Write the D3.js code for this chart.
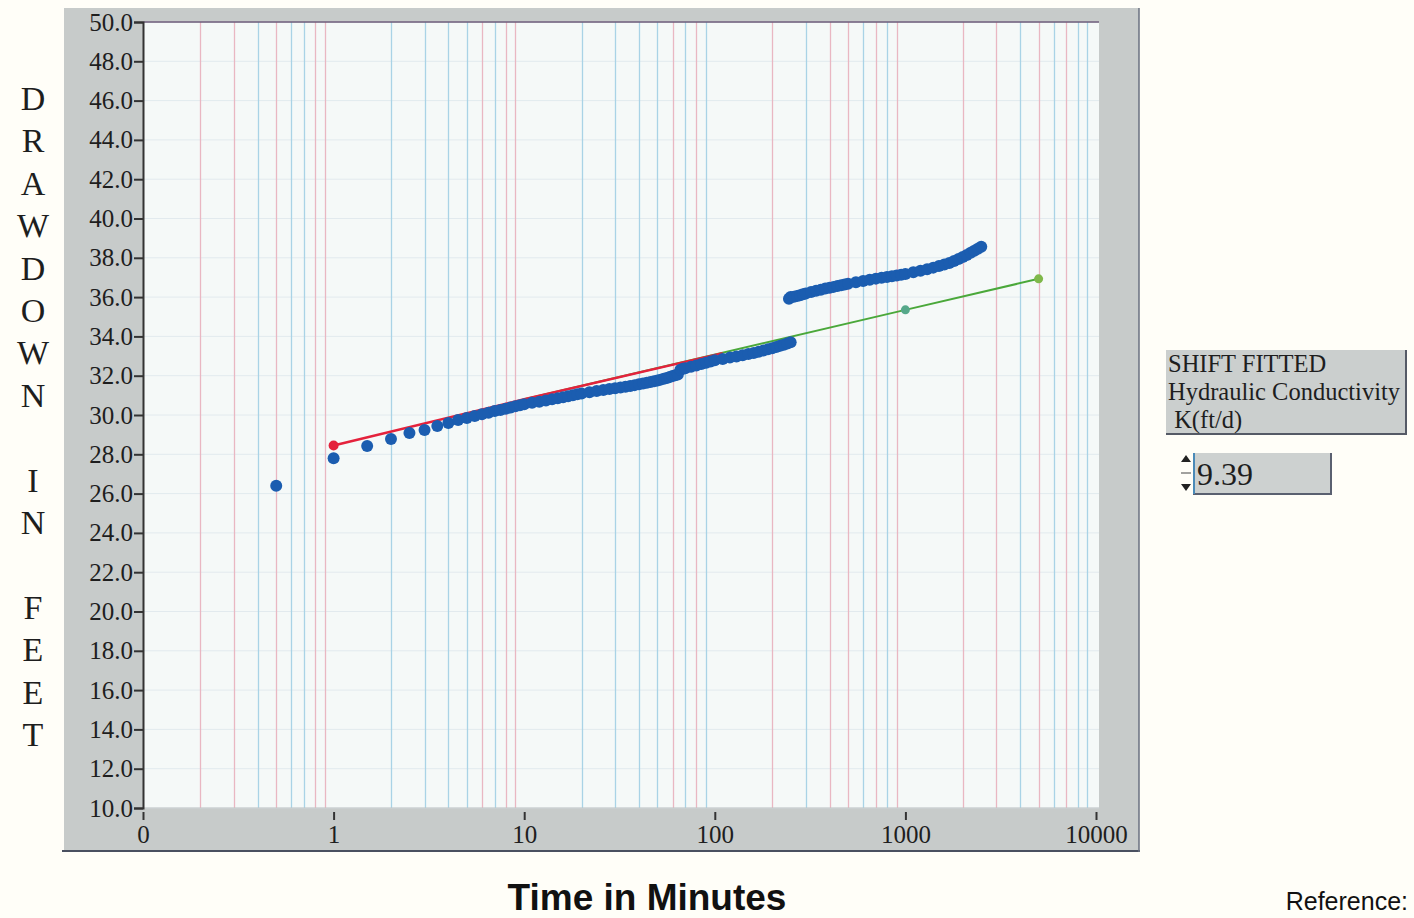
<!DOCTYPE html>
<html lang="en">
<head>
    <meta charset="UTF-8">
    <title>Drawdown vs Time</title>
    <script src="https://d3js.org/d3.v7.min.js"></script>
    <style>
        body {
            margin: 0;
            background: #fffef8;
        }
        .serif {
            font-family: "Liberation Serif", "Times New Roman", serif;
            fill: #1e1e1e;
        }
        .sans {
            font-family: "Liberation Sans", Arial, sans-serif;
            fill: #111;
        }
    </style>
</head>
<body>
    <script>
        // observed drawdown (blue dots)
        const obsTime = [0.5, 1, 1.5, 2, 2.5, 3, 3.5, 4, 4.5, 5, 5.5, 6, 6.5, 7, 7.5, 8, 8.5, 9, 9.5, 10,
            11, 12, 13, 14, 15, 16, 17, 18, 19, 20, 22, 24, 26, 28, 30, 32, 34, 36, 38, 40,
            42, 44, 46, 48, 50, 52, 54, 56, 58, 60, 62, 64, 66, 68, 70, 75, 80, 85, 90, 95, 100,
            110, 120, 130, 140, 150, 160, 170, 180, 190, 200, 210, 220, 230, 240, 250];
        const obsDrawdown = [26.4, 27.8, 28.42, 28.78, 29.08, 29.24, 29.44, 29.59, 29.75, 29.85, 29.95, 30.04, 30.12, 30.2, 30.26, 30.32, 30.38, 30.44, 30.5, 30.55,
            30.62, 30.68, 30.74, 30.8, 30.85, 30.9, 30.95, 31.0, 31.05, 31.1, 31.16, 31.22, 31.27, 31.32, 31.36, 31.4, 31.44, 31.48, 31.52, 31.56,
            31.6, 31.64, 31.68, 31.72, 31.76, 31.8, 31.84, 31.88, 31.93, 31.98, 32.02, 32.06, 32.3, 32.35, 32.38, 32.45, 32.52, 32.6, 32.66, 32.72, 32.78,
            32.85, 32.92, 32.98, 33.04, 33.1, 33.16, 33.22, 33.28, 33.34, 33.4, 33.46, 33.52, 33.58, 33.64, 33.7];

        // second, shifted block of observations
        const lateTime = [245, 250, 260, 270, 280, 290, 300, 320, 340, 360, 380, 400, 420, 440, 460, 480, 500,
            550, 600, 650, 700, 750, 800, 850, 900, 950, 1000, 1100, 1200, 1300, 1400, 1500,
            1600, 1700, 1800, 1900, 2000, 2100, 2200, 2300, 2400, 2500];
        const lateDrawdown = [35.92, 36.0, 36.02, 36.06, 36.1, 36.14, 36.18, 36.26, 36.32, 36.38, 36.44, 36.48, 36.52, 36.56, 36.6, 36.64, 36.68,
            36.76, 36.82, 36.88, 36.94, 36.98, 37.02, 37.06, 37.1, 37.14, 37.18, 37.26, 37.34, 37.42, 37.5, 37.58,
            37.66, 37.74, 37.84, 37.94, 38.04, 38.14, 38.26, 38.36, 38.46, 38.56];

        // fitted lines
        const redFitTime = [1, 10, 110];
        const redFitDrawdown = [28.45, 30.8, 33.15];
        const greenFitTime = [10, 1000, 5000];
        const greenFitDrawdown = [30.8, 35.35, 36.93];

        const xTickValues = [0.1, 1, 10, 100, 1000, 10000];
        const xTickLabels = ['0', '1', '10', '100', '1000', '10000'];
        const yTickValues = d3.range(10, 50.1, 2);
        const yTitle = 'DRAWDOWN IN FEET';
        const kValue = '9.39';

        const width = 1414, height = 918;
        const plot = {left: 143, right: 1099, top: 22, bottom: 808};

        const svg = d3.select('body')
                      .append('svg')
                      .attr('width', width)
                      .attr('height', height);

        const xScale = d3.scaleLog()
                         .domain([0.1, 10000])
                         .range([plot.left, 1096]);

        const yScale = d3.scaleLinear()
                         .domain([10, 50])
                         .range([plot.bottom, plot.top]);

        // gray frame
        svg.append('rect')
            .attr('x', 64).attr('y', 8)
            .attr('width', 1075).attr('height', 843)
            .attr('fill', '#c7cbca');
        svg.append('line')
            .attr('x1', 62).attr('x2', 1140).attr('y1', 851).attr('y2', 851)
            .attr('stroke', '#4a5060').attr('stroke-width', 2);
        svg.append('line')
            .attr('x1', 1139).attr('x2', 1139).attr('y1', 8).attr('y2', 852)
            .attr('stroke', '#6a7080').attr('stroke-width', 1.5);

        // plot background
        svg.append('rect')
            .attr('x', plot.left).attr('y', plot.top)
            .attr('width', plot.right - plot.left).attr('height', plot.bottom - plot.top)
            .attr('fill', '#f5f9f8');

        // horizontal grid
        svg.append('g')
            .selectAll('line')
            .data(yTickValues)
            .join('line')
            .attr('x1', plot.left).attr('x2', plot.right)
            .attr('y1', d => yScale(d)).attr('y2', d => yScale(d))
            .attr('stroke', '#e2eaee').attr('stroke-width', 1);

        // vertical minor grid, pink and blue as in the scan
        const pink = '#e9b7c2', blue = '#a9d3e6';
        const gridColors = [
            pink, pink, blue, pink, blue, blue, pink, pink,
            blue, blue, blue, blue, pink, blue, pink, pink,
            blue, blue, blue, blue, pink, blue, pink, blue,
            pink, blue, pink, pink, blue, pink, blue, pink,
            pink, pink, blue, pink, blue, pink, blue, blue
        ];
        const minorTicks = [];
        [0.1, 1, 10, 100, 1000].forEach(dec => {
            for (let m = 2; m <= 9; m++) minorTicks.push(dec * m);
        });
        svg.append('g')
            .selectAll('line')
            .data(minorTicks)
            .join('line')
            .attr('x1', d => Math.round(xScale(d)) + 0.5)
            .attr('x2', d => Math.round(xScale(d)) + 0.5)
            .attr('y1', plot.top).attr('y2', plot.bottom)
            .attr('stroke', (d, i) => gridColors[i])
            .attr('stroke-width', 1.3);

        // plot border
        svg.append('line')
            .attr('x1', plot.left).attr('x2', plot.right).attr('y1', plot.top).attr('y2', plot.top)
            .attr('stroke', '#6b5a78').attr('stroke-width', 1.5);
        svg.append('line')
            .attr('x1', plot.left).attr('x2', plot.right).attr('y1', plot.bottom).attr('y2', plot.bottom)
            .attr('stroke', '#c0c4c4').attr('stroke-width', 1);

        // y axis
        const yAxis = svg.append('g')
            .attr('transform', `translate(${plot.left},0)`)
            .call(d3.axisLeft(yScale).tickValues(yTickValues).tickFormat(d3.format('.1f')).tickSize(9).tickPadding(1));
        yAxis.select('.domain').attr('stroke', '#333').attr('stroke-width', 2);
        yAxis.selectAll('.tick line').attr('stroke', '#333').attr('stroke-width', 2);
        yAxis.selectAll('.tick text')
            .attr('class', 'serif')
            .attr('font-size', 25)
            .attr('fill', '#1e1e1e');

        // x axis
        const xAxis = svg.append('g')
            .attr('transform', `translate(0,${plot.bottom + 4})`)
            .call(d3.axisBottom(xScale).tickValues(xTickValues)
                .tickFormat((d, i) => xTickLabels[i]).tickSize(8).tickPadding(5));
        xAxis.select('.domain').remove();
        xAxis.selectAll('.tick line').attr('stroke', '#333').attr('stroke-width', 2);
        xAxis.selectAll('.tick text')
            .attr('class', 'serif')
            .attr('font-size', 25)
            .attr('fill', '#1e1e1e');

        // fitted lines
        const line = d3.line()
            .x(d => xScale(d[0]))
            .y(d => yScale(d[1]));

        svg.append('path')
            .datum(d3.zip(greenFitTime, greenFitDrawdown))
            .attr('d', line)
            .attr('fill', 'none')
            .attr('stroke', '#4aa83a')
            .attr('stroke-width', 2);

        svg.append('path')
            .datum(d3.zip(redFitTime, redFitDrawdown))
            .attr('d', line)
            .attr('fill', 'none')
            .attr('stroke', '#e4223c')
            .attr('stroke-width', 2.5);

        // observations
        const obs = d3.zip(obsTime, obsDrawdown).concat(d3.zip(lateTime, lateDrawdown));
        svg.append('g')
            .selectAll('circle')
            .data(obs)
            .join('circle')
            .attr('cx', d => xScale(d[0]))
            .attr('cy', d => yScale(d[1]))
            .attr('r', 6)
            .attr('fill', '#1b5db0');

        // line markers
        svg.append('circle')
            .attr('cx', xScale(redFitTime[0]))
            .attr('cy', yScale(redFitDrawdown[0]))
            .attr('r', 5)
            .attr('fill', '#e4223c');

        svg.append('g')
            .selectAll('circle')
            .data(d3.zip(greenFitTime, greenFitDrawdown).slice(1))
            .join('circle')
            .attr('cx', d => xScale(d[0]))
            .attr('cy', d => yScale(d[1]))
            .attr('r', 4.5)
            .attr('fill', (d, i) => i === 0 ? '#55a88a' : '#7fb84a');

        // vertical y title, one letter per row
        const letters = yTitle.split('');
        svg.append('g')
            .selectAll('text')
            .data(letters)
            .join('text')
            .attr('class', 'serif')
            .attr('x', 33)
            .attr('y', (d, i) => 110 + i * 42.4)
            .attr('text-anchor', 'middle')
            .attr('font-size', 34)
            .attr('fill', '#111')
            .text(d => d);

        // x title
        svg.append('text')
            .attr('class', 'sans')
            .attr('x', 647)
            .attr('y', 910)
            .attr('text-anchor', 'middle')
            .attr('font-size', 37)
            .attr('font-weight', 'bold')
            .text('Time in Minutes');

        svg.append('text')
            .attr('class', 'sans')
            .attr('x', 1408)
            .attr('y', 910)
            .attr('text-anchor', 'end')
            .attr('font-size', 25)
            .text('Reference:');

        // conductivity panel
        svg.append('rect')
            .attr('x', 1166).attr('y', 350)
            .attr('width', 240).attr('height', 84)
            .attr('fill', '#cbcfce');
        svg.append('path')
            .attr('d', 'M1166,434H1406V350')
            .attr('fill', 'none')
            .attr('stroke', '#555a66').attr('stroke-width', 2);

        const panelLines = ['SHIFT FITTED', 'Hydraulic Conductivity', '\u00a0K(ft/d)'];
        svg.append('g')
            .selectAll('text')
            .data(panelLines)
            .join('text')
            .attr('class', 'serif')
            .attr('x', 1168)
            .attr('y', (d, i) => 372 + i * 28)
            .attr('font-size', 24.5)
            .attr('fill', '#222')
            .text(d => d);

        // value box with spinner
        svg.append('rect')
            .attr('x', 1193).attr('y', 453)
            .attr('width', 138).attr('height', 41)
            .attr('fill', '#cdd1d0');
        svg.append('path')
            .attr('d', 'M1193,494H1331V453')
            .attr('fill', 'none')
            .attr('stroke', '#5a6070').attr('stroke-width', 2);
        svg.append('path')
            .attr('d', 'M1194,453V494')
            .attr('stroke', '#4a8ab8').attr('stroke-width', 2);
        svg.append('path')
            .attr('d', 'M1181,462L1186,455L1191,462Z M1181,484L1186,491L1191,484Z')
            .attr('fill', '#222');
        svg.append('line')
            .attr('x1', 1181).attr('x2', 1191).attr('y1', 473).attr('y2', 473)
            .attr('stroke', '#444').attr('stroke-width', 1);
        svg.append('text')
            .attr('class', 'serif')
            .attr('x', 1197)
            .attr('y', 485)
            .attr('font-size', 32)
            .attr('fill', '#222')
            .text(kValue);
    </script>
</body>
</html>
